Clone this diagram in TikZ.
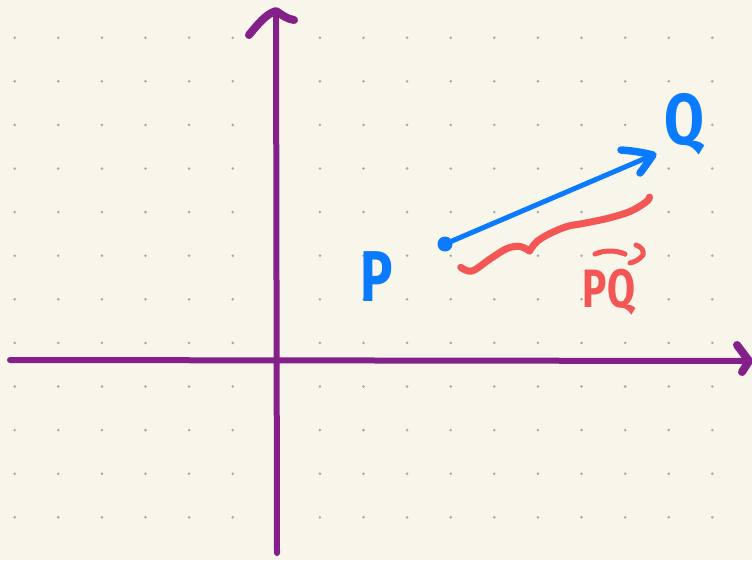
\documentclass[tikz,border=0pt]{standalone}
\usepackage{fontspec}
\setmainfont{Fira Sans}
\definecolor{paper}{HTML}{F8F6EA}
\definecolor{griddot}{HTML}{A8A79E}
\definecolor{axispurple}{HTML}{84208A}
\definecolor{vecblue}{HTML}{0A7AFF}
\definecolor{bracered}{HTML}{F45656}
\tikzset{
  axisline/.style={draw=axispurple, line width=6pt, line cap=round},
  axishead/.style={draw=axispurple, line width=8pt, line cap=round, line join=round},
  vecline/.style={draw=vecblue, line width=5pt, line cap=round},
  vechead/.style={draw=vecblue, line width=7.5pt, line cap=round, line join=round},
  bracestroke/.style={draw=bracered, line width=7pt, line cap=round, line join=round},
  redstroke/.style={draw=bracered, line width=5pt, line cap=round, line join=round},
  biglabel/.style={inner sep=0pt, font=\fontsize{72}{72}\selectfont\bfseries},
  smalllabel/.style={inner sep=0pt, font=\fontsize{54}{54}\selectfont\bfseries},
}
\begin{document}
\begin{tikzpicture}[x=1pt, y=-1pt]
  % background / bounding box
  \fill[paper] (0,0) rectangle (752,560);
  \useasboundingbox (0,0) rectangle (752,560);
  % dot grid
  \foreach \k in {0,...,16} {
    \foreach \j in {0,...,11} {
      \fill[griddot] ({14.7+43.6*\k},{37.7+43.6*\j}) circle (1.4);
    }
  }
  % axes
  \coordinate (ybot) at (277,553);
  \coordinate (ytop) at (276,11);
  \coordinate (xleft) at (10,360);
  \coordinate (xright) at (749,361);
  \draw[axisline] (ybot) -- (ytop);
  \draw[axishead] (249,35) .. controls (258,24) and (266,14) .. (ytop) .. controls (282,15) and (287,19) .. (294,20);
  \draw[axisline] (xleft) -- (xright);
  \draw[axishead] (737,345) -- (xright) -- (742,372);
  % vector P -> Q
  \coordinate (p) at (445,244);
  \coordinate (qtip) at (653,155);
  \draw[vecline] (p) -- (qtip);
  \draw[vechead] (621,150) .. controls (635,151) and (645,153) .. (qtip) .. controls (648,162) and (644,168) .. (640,173);
  \fill[vecblue] (p) circle (7.5);
  % labels
  \node[biglabel, text=vecblue, xscale=0.75] (labelP) at (377,277) {P};
  \node[biglabel, text=vecblue, xscale=0.8] (labelQ) at (684,124) {Q};
  % brace
  \draw[bracestroke] plot[smooth, tension=0.6] coordinates {(460.7,267.3) (472,271) (490,259) (507,248.5) (520,246.5) (529.5,251)};
  \draw[bracestroke] plot[smooth, tension=0.6] coordinates {(529.5,251) (537,241.5) (550,233.5) (567,226.5) (583,223.5) (607,218.5) (630,211.5) (646,202) (649.5,197)};
  % PQ vector label
  \node[smalllabel, text=bracered, xscale=0.75] (labelPQ) at (609,292) {PQ};
  \draw[redstroke] (595,254) .. controls (605,250) and (615,250) .. (625,254);
  \draw[redstroke] (636,245) .. controls (642,247) and (644,251) .. (643,255) .. controls (640,259) and (635,262) .. (630,263);
\end{tikzpicture}
\end{document}
